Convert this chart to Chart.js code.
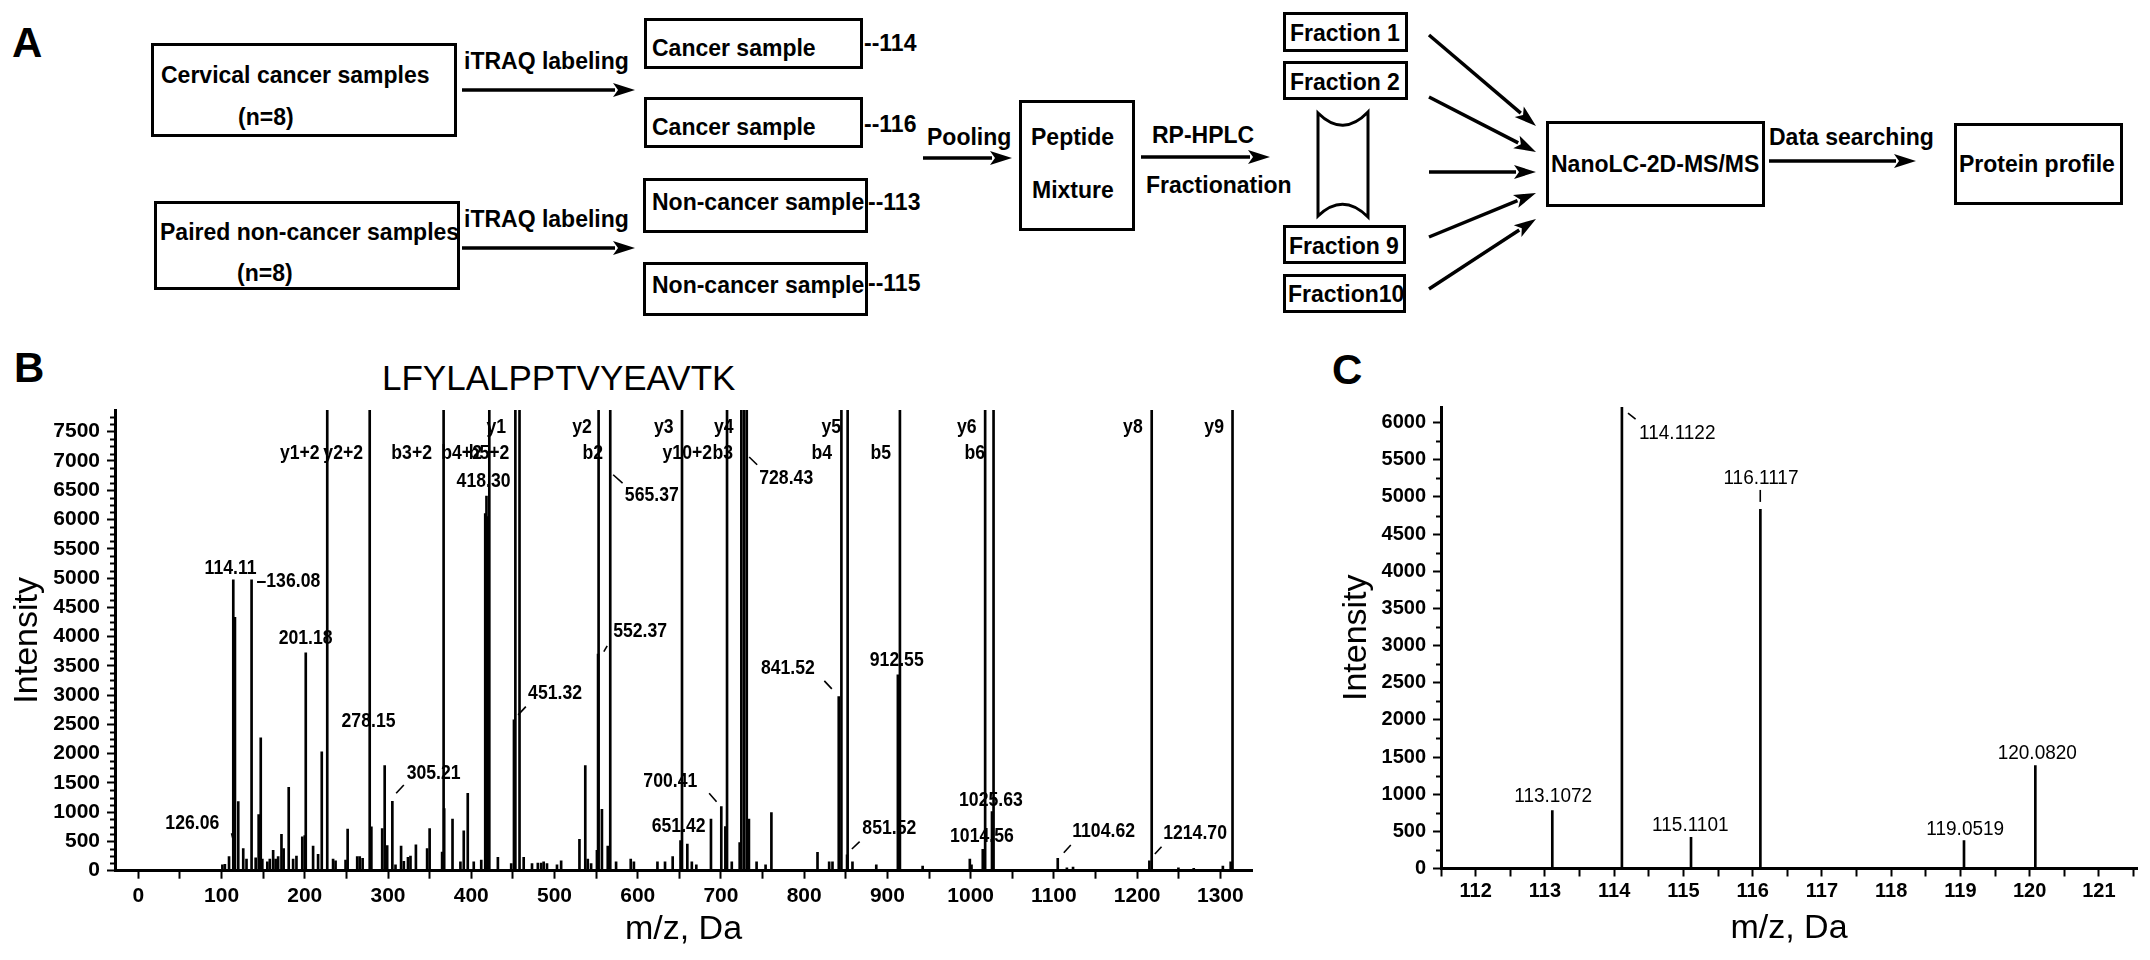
<!DOCTYPE html>
<html>
<head>
<meta charset="utf-8">
<script src="https://cdn.jsdelivr.net/npm/chart.js@4.4.0/dist/chart.umd.min.js"></script>
<style>
  body{margin:0;background:#fff;}
  #page{position:relative;width:2150px;height:960px;overflow:hidden;background:#fff;font-family:"Liberation Sans",Arial,sans-serif;color:#000;}
  .box{position:absolute;border:3px solid #000;box-sizing:border-box;}
  .t{position:absolute;font-weight:bold;font-size:23px;line-height:1;white-space:nowrap;transform:translateY(-50%);}
  .panel{position:absolute;font-weight:bold;font-size:42px;line-height:1;transform:translateY(-50%);}
  canvas{position:absolute;}
</style>
</head>
<body>
<div id="page">
  <!-- panel A : workflow -->
  <div class="panel" style="left:12px;top:43px">A</div>

  <div class="box" style="left:151px;top:43px;width:306px;height:94px"></div>
  <div class="t" style="left:161px;top:75px">Cervical cancer samples</div>
  <div class="t" style="left:238px;top:117px">(n=8)</div>

  <div class="box" style="left:154px;top:201px;width:306px;height:89px"></div>
  <div class="t" style="left:160px;top:232px">Paired non-cancer samples</div>
  <div class="t" style="left:237px;top:273px">(n=8)</div>

  <div class="t" style="left:464px;top:61px">iTRAQ labeling</div>
  <div class="t" style="left:464px;top:219px">iTRAQ labeling</div>

  <div class="box" style="left:644px;top:18px;width:219px;height:51px"></div>
  <div class="t" style="left:652px;top:48px">Cancer sample</div>
  <div class="t" style="left:864px;top:43px">--114</div>
  <div class="box" style="left:644px;top:97px;width:219px;height:51px"></div>
  <div class="t" style="left:652px;top:127px">Cancer sample</div>
  <div class="t" style="left:864px;top:124px">--116</div>
  <div class="box" style="left:643px;top:178px;width:225px;height:55px"></div>
  <div class="t" style="left:652px;top:202px">Non-cancer sample</div>
  <div class="t" style="left:868px;top:202px">--113</div>
  <div class="box" style="left:643px;top:262px;width:225px;height:54px"></div>
  <div class="t" style="left:652px;top:285px">Non-cancer sample</div>
  <div class="t" style="left:868px;top:283px">--115</div>

  <div class="t" style="left:927px;top:137px">Pooling</div>
  <div class="box" style="left:1019px;top:100px;width:116px;height:131px"></div>
  <div class="t" style="left:1031px;top:137px">Peptide</div>
  <div class="t" style="left:1032px;top:190px">Mixture</div>

  <div class="t" style="left:1152px;top:135px">RP-HPLC</div>
  <div class="t" style="left:1146px;top:185px">Fractionation</div>

  <div class="box" style="left:1283px;top:12px;width:125px;height:40px"></div>
  <div class="t" style="left:1290px;top:33px">Fraction 1</div>
  <div class="box" style="left:1283px;top:61px;width:125px;height:39px"></div>
  <div class="t" style="left:1290px;top:82px">Fraction 2</div>
  <div class="box" style="left:1283px;top:225px;width:123px;height:39px"></div>
  <div class="t" style="left:1289px;top:246px">Fraction 9</div>
  <div class="box" style="left:1283px;top:274px;width:123px;height:39px"></div>
  <div class="t" style="left:1288px;top:294px">Fraction10</div>

  <div class="box" style="left:1546px;top:121px;width:219px;height:86px"></div>
  <div class="t" style="left:1551px;top:164px">NanoLC-2D-MS/MS</div>
  <div class="t" style="left:1769px;top:137px">Data searching</div>
  <div class="box" style="left:1954px;top:123px;width:169px;height:82px"></div>
  <div class="t" style="left:1959px;top:164px">Protein profile</div>

  <svg id="arrows" width="2150" height="330" style="position:absolute;left:0;top:0">
    <path d="M1318,113 Q1343,138 1368,112 L1368,217 Q1343,192 1318,216 Z" fill="none" stroke="#000" stroke-width="3"/>
  </svg>

  <!-- panels B and C -->
  <div class="panel" style="left:14px;top:368px">B</div>
  <div style="position:absolute;left:382px;top:377px;font-size:35px;line-height:1;transform:translateY(-50%);white-space:nowrap">LFYLALPPTVYEAVTK</div>
  <canvas id="chartB" width="1262" height="620" style="left:0;top:340px"></canvas>

  <div class="panel" style="left:1332px;top:370px">C</div>
  <canvas id="chartC" width="860" height="620" style="left:1290px;top:340px"></canvas>
</div>

<script>
// ---------- panel B : MS/MS spectrum of LFYLALPPTVYEAVTK ----------
const peakMzB = [101, 104, 109, 114.11, 116.11, 120.08, 126.06, 130, 136.08, 141, 144.6, 147.1, 149, 155, 158, 162, 165, 168, 172, 174.6,
  180.7, 186, 190, 197, 200, 201.18, 210, 216, 220.4, 234, 237, 249, 251.5, 263, 266, 269.5, 280, 293, 296, 299,
  305.21, 309, 315.7, 319, 324, 327, 333.5, 347, 350, 365, 367.5, 377.5, 387, 391, 395.8, 403, 412, 416.8, 418.3, 419.6,
  432, 448, 451.32, 463, 473, 480, 484, 487, 491, 503, 508, 530, 537, 540, 544, 551, 552.37, 557, 564, 574,
  591.6, 595.4, 623.7, 632.8, 642, 651.42, 659.6, 665, 670.4, 688, 700.41, 705.3, 713, 722.5, 733.6, 742.8, 753.6, 760.6, 816, 830,
  834, 841.52, 851.52, 858, 886.6, 912.55, 942.3, 999, 1001, 1014.56, 1025.63, 1104.62, 1115.6, 1123, 1214.7, 1249.6, 1268, 1303, 1312.4];
const peakIntB = [100, 110, 240, 4970, 4330, 1180, 380, 200, 4970, 220, 960, 2270, 200, 150, 200, 350, 200, 240, 620, 380,
  1425, 200, 250, 580, 600, 3720, 420, 280, 2030, 200, 170, 180, 713, 240, 240, 210, 750, 720, 1795, 430,
  1185, 100, 420, 160, 230, 250, 440, 380, 720, 320, 1060, 883, 150, 680, 1323, 150, 180, 6100, 6400, 6050,
  230, 120, 2576, 230, 120, 130, 130, 150, 120, 100, 170, 536, 1795, 200, 120, 350, 3700, 1049, 420, 150,
  200, 150, 150, 150, 240, 513, 456, 150, 100, 880, 1094, 752, 150, 479, 880, 150, 100, 991, 314, 150,
  150, 2974, 270, 150, 100, 3345, 80, 200, 100, 365, 1010, 211, 50, 60, 170, 50, 40, 80, 150];

// matched fragment ions, drawn as full-height markers
const ionMzB = [227, 278, 366.8, 421.7, 453, 458, 553, 567, 653.2, 707.3, 724.5, 727.8, 731, 844.7, 852.2, 915, 1017.4, 1027.5, 1217.5, 1314.6];
const ionTopB = 9000;

// fragment names (row 1 sits higher than row 2)
const ionNameB = ['y1', 'y2', 'y3', 'y4', 'y5', 'y6', 'y8', 'y9',
  'y1+2', 'y2+2', 'b3+2', 'b4+2', 'b5+2', 'b2', 'y10+2', 'b3', 'b4', 'b5', 'b6'];
const ionNameMzB = [430, 533, 631.4, 703.5, 832.6, 995.4, 1194.9, 1292.5,
  194, 246.2, 328.4, 388.4, 421.4, 546.1, 659.6, 702.3, 821.2, 892.1, 1005];
const ionNameRowB = [1, 1, 1, 1, 1, 1, 1, 1, 2, 2, 2, 2, 2, 2, 2, 2, 2, 2, 2];
const ionRowIntB = [7568, 7140];

// peak m/z labels: text, anchor m/z, anchor intensity, alignment
const labelTextB = ['114.11', '\u2013136.08', '201.18', '278.15', '126.06', '305.21', '418.30', '451.32', '552.37', '565.37',
  '651.42', '700.41', '728.43', '841.52', '851.52', '912.55', '1014.56', '1025.63', '1104.62', '1214.70'];
const labelMzB = [110.9, 142, 201, 276.6, 64.9, 322.4, 414.8, 468.3, 570.5, 584.5,
  649.2, 639.2, 746, 780.4, 869.9, 911.2, 1013.5, 1024.3, 1122, 1231.3];
const labelIntB = [5169, 4940, 3973, 2547, 810, 1665, 6650, 3032, 4085, 6422,
  764, 1521, 6708, 3460, 725, 3603, 593, 1209, 667, 639];
const labelAlignB = ['center', 'left', 'center', 'center', 'center', 'left', 'center', 'left', 'left', 'left',
  'center', 'center', 'left', 'center', 'left', 'center', 'center', 'center', 'left', 'left'];

// short leader strokes between labels and peaks: [mz1, int1, mz2, int2]
const leaderB = [[112, 639, 116, 410], [309.8, 1323, 319, 1465], [456.3, 2662, 465.6, 2803], [559.3, 3744, 563.3, 3841],
  [570.5, 6764, 581.8, 6622], [685.8, 1323, 694.7, 1179], [733.9, 7067, 743.5, 6935], [824.2, 3243, 833.2, 3106],
  [857.3, 371, 866.6, 496], [1111.9, 308, 1120.3, 439], [1221.3, 285, 1229.3, 410]];

const yTicksB = [0, 500, 1000, 1500, 2000, 2500, 3000, 3500, 4000, 4500, 5000, 5500, 6000, 6500, 7000, 7500];

// ---------- panel C : iTRAQ reporter ions ----------
const peakMzC = [113.1072, 114.1122, 115.1101, 116.1117, 119.0519, 120.0820];
const peakIntC = [778, 6300, 420, 4834, 375, 1384];
const labelTextC = ['113.1072', '114.1122', '115.1101', '116.1117', '119.0519', '120.0820'];
const labelMzC = [113.12, 114.36, 115.10, 116.12, 119.07, 120.11];
const labelIntC = [966, 5857, 585, 5252, 527, 1550];
const labelAlignC = ['center', 'left', 'center', 'center', 'center', 'center'];
const leaderC = [[114.20, 6126, 114.31, 6046], [116.11, 5094, 116.11, 4933]];

const yTicksC = [0, 500, 1000, 1500, 2000, 2500, 3000, 3500, 4000, 4500, 5000, 5500, 6000];

// ---------- workflow arrows (panel A) ----------
const arrowsA = [[462, 90, 635, 90], [462, 248, 635, 248], [923, 158, 1012, 158], [1141, 157, 1270, 157],
  [1429, 35, 1536, 126], [1429, 97, 1536, 152], [1429, 172, 1536, 172], [1429, 237, 1536, 193], [1429, 289, 1536, 219],
  [1769, 161, 1916, 161]];
(function drawArrows(){
  const svg = document.getElementById('arrows');
  const ns = 'http://www.w3.org/2000/svg';
  arrowsA.forEach(([x1, y1, x2, y2]) => {
    const len = Math.hypot(x2 - x1, y2 - y1), ux = (x2 - x1) / len, uy = (y2 - y1) / len;
    const hl = 22, hw = 7;
    const bx = x2 - ux * hl, by = y2 - uy * hl;
    const line = document.createElementNS(ns, 'line');
    line.setAttribute('x1', x1); line.setAttribute('y1', y1);
    line.setAttribute('x2', bx + ux * 2); line.setAttribute('y2', by + uy * 2);
    line.setAttribute('stroke', '#000'); line.setAttribute('stroke-width', 3.5);
    svg.appendChild(line);
    const head = document.createElementNS(ns, 'polygon');
    head.setAttribute('points', `${x2},${y2} ${bx - uy * hw},${by + ux * hw} ${bx + ux * 5},${by + uy * 5} ${bx + uy * hw},${by - ux * hw}`);
    head.setAttribute('fill', '#000');
    svg.appendChild(head);
  });
})();

// ---------- chart helpers ----------
Chart.defaults.font.family = '"Liberation Sans", Arial, sans-serif';
Chart.defaults.color = '#000';

const spectrumExtras = {
  id: 'spectrumExtras',
  afterDatasetsDraw(chart, args, o) {
    const {ctx, scales: {x, y}} = chart;
    ctx.save();
    ctx.fillStyle = '#000';
    ctx.strokeStyle = '#000';
    // minor y ticks
    ctx.lineWidth = 2;
    for (let v = 0; v <= y.max; v += o.minorY) {
      if (Math.abs(v % o.majorY) < 1e-6) continue;
      const py = Math.round(y.getPixelForValue(v)) + 0.5;
      ctx.beginPath(); ctx.moveTo(y.right - o.minorLen, py); ctx.lineTo(y.right, py); ctx.stroke();
    }
    // leader strokes
    ctx.lineWidth = 1.6;
    o.leaders.forEach(([a, b, c, d]) => {
      ctx.beginPath();
      ctx.moveTo(x.getPixelForValue(a), y.getPixelForValue(b));
      ctx.lineTo(x.getPixelForValue(c), y.getPixelForValue(d));
      ctx.stroke();
    });
    // text labels
    ctx.font = o.font;
    ctx.textBaseline = 'middle';
    o.labels.forEach(l => {
      ctx.save();
      ctx.translate(x.getPixelForValue(l.mz), y.getPixelForValue(l.int));
      ctx.scale(o.squeeze, 1);
      ctx.textAlign = l.align;
      ctx.fillText(l.text, 0, 0);
      ctx.restore();
    });
    ctx.restore();
  }
};

function axisBase(extra) {
  return Object.assign({
    border: {color: '#000', width: 3},
    grid: {display: true, drawOnChartArea: false, drawTicks: true, tickLength: 8, tickColor: '#000', tickWidth: 2, offset: false},
  }, extra);
}

// ---------- chart B ----------
const labelsB = labelTextB.map((t, i) => ({text: t, mz: labelMzB[i], int: labelIntB[i], align: labelAlignB[i]}))
  .concat(ionNameB.map((t, i) => ({text: t, mz: ionNameMzB[i], int: ionRowIntB[ionNameRowB[i] - 1], align: 'center'})));

new Chart(document.getElementById('chartB'), {
  type: 'bar',
  data: {
    datasets: [
      {data: peakMzB.map((m, i) => ({x: m, y: peakIntB[i]})), backgroundColor: '#000', barThickness: 2, grouped: false, clip: 0},
      {data: ionMzB.map(m => ({x: m, y: ionTopB})), backgroundColor: '#000', barThickness: 2, grouped: false, clip: 0}
    ]
  },
  options: {
    responsive: false, animation: false,
    layout: {padding: {top: 70, right: 10, left: 0, bottom: 0}},
    plugins: {
      legend: {display: false}, tooltip: {enabled: false},
      spectrumExtras: {minorY: 125, majorY: 500, minorLen: 5, leaders: leaderB, labels: labelsB,
        font: 'bold 21px "Liberation Sans", Arial, sans-serif', squeeze: 0.84}
    },
    scales: {
      x: axisBase({
        type: 'linear', min: -28, max: 1338, offset: false,
        afterFit: s => { s.height = 89.3; },
        ticks: {stepSize: 50, includeBounds: false, autoSkip: false, maxRotation: 0, padding: 5,
          font: {size: 21, weight: 'bold'}, callback: v => (v % 100 === 0 ? v : '')},
        title: {display: true, text: 'm/z, Da', font: {size: 34}, padding: {top: 0, bottom: 9.6}}
      }),
      y: axisBase({
        type: 'linear', min: 0, max: 7870,
        afterFit: s => { s.width = 115; },
        afterBuildTicks: s => { s.ticks = yTicksB.map(v => ({value: v})); },
        ticks: {autoSkip: false, padding: 7, font: {size: 21, weight: 'bold'}, callback: v => v},
        title: {display: true, text: 'Intensity', font: {size: 34}, padding: {top: 7.6, bottom: 0}}
      })
    }
  },
  plugins: [spectrumExtras]
});

// ---------- chart C ----------
const labelsC = labelTextC.map((t, i) => ({text: t, mz: labelMzC[i], int: labelIntC[i], align: labelAlignC[i]}));

new Chart(document.getElementById('chartC'), {
  type: 'bar',
  data: {
    datasets: [
      {data: peakMzC.map((m, i) => ({x: m, y: peakIntC[i]})), backgroundColor: '#000', barThickness: 2, grouped: false, clip: 0}
    ]
  },
  options: {
    responsive: false, animation: false,
    layout: {padding: {top: 67, right: 13, left: 0, bottom: 0}},
    plugins: {
      legend: {display: false}, tooltip: {enabled: false},
      spectrumExtras: {minorY: 250, majorY: 500, minorLen: 5, leaders: leaderC, labels: labelsC,
        font: '20px "Liberation Sans", Arial, sans-serif', squeeze: 0.95}
    },
    scales: {
      x: axisBase({
        type: 'linear', min: 111.5, max: 121.55, offset: false,
        afterFit: s => { s.height = 91.5; },
        ticks: {stepSize: 0.5, includeBounds: false, autoSkip: false, maxRotation: 0, padding: 3,
          font: {size: 20, weight: 'bold'}, callback: v => (Math.abs(v - Math.round(v)) < 1e-6 ? Math.round(v) : '')},
        title: {display: true, text: 'm/z, Da', font: {size: 34}, padding: {top: 0, bottom: 10.6}}
      }),
      y: axisBase({
        type: 'linear', min: 0, max: 6210,
        afterFit: s => { s.width = 151; },
        afterBuildTicks: s => { s.ticks = yTicksC.map(v => ({value: v})); },
        ticks: {autoSkip: false, padding: 7, font: {size: 20, weight: 'bold'}, callback: v => v},
        title: {display: true, text: 'Intensity', font: {size: 34}, padding: {top: 46.6, bottom: 0}}
      })
    }
  },
  plugins: [spectrumExtras]
});
</script>
</body>
</html>
